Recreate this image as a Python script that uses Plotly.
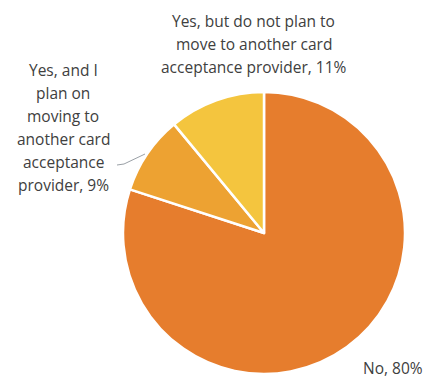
import plotly.graph_objects as go

categories = ["No", "Yes, and I plan on moving to another card acceptance provider",
              "Yes, but do not plan to move to another card acceptance provider"]
values = [80, 9, 11]
colors = ["#E67D2D", "#EDA232", "#F4C53E"]
label_lines = [["No, 80%"],
               ["Yes, and I", "plan on", "moving to", "another card", "acceptance", "provider, 9%"],
               ["Yes, but do not plan to", "move to another card", "acceptance provider, 11%"]]

W, H = 426, 378
fig = go.Figure(go.Pie(
    labels=categories, values=values, sort=False, direction="clockwise", rotation=0,
    marker=dict(colors=colors, line=dict(color="white", width=2.5)),
    textinfo="none", hoverinfo="label+percent", showlegend=False,
    domain=dict(x=[123 / W, 405 / W], y=[(H - 374) / H, (H - 92) / H]),
))

font = dict(family="Open Sans, Noto Sans, sans-serif", size=15.5, color="#404040")


def add_lines(lines, cx, y0, step):
    for i, t in enumerate(lines):
        fig.add_annotation(x=cx / W, y=(H - (y0 + i * step)) / H, xref="paper", yref="paper",
                           text=t, showarrow=False, font=font,
                           xanchor="center", yanchor="middle")


add_lines(label_lines[0], 393, 368, 0)
add_lines(label_lines[1], 63, 70, 23)
add_lines(label_lines[2], 254, 21, 23)

# leader line for 9% label
fig.add_shape(type="path", xref="paper", yref="paper",
              path=f"M {117/W} {(H-165)/H} L {124/W} {(H-164)/H} L {145/W} {(H-154)/H}",
              line=dict(color="#9AA0A6", width=1))

fig.update_layout(width=W, height=H, margin=dict(l=0, r=0, t=0, b=0),
                  paper_bgcolor="white", plot_bgcolor="white")
fig.write_html("out.html")
